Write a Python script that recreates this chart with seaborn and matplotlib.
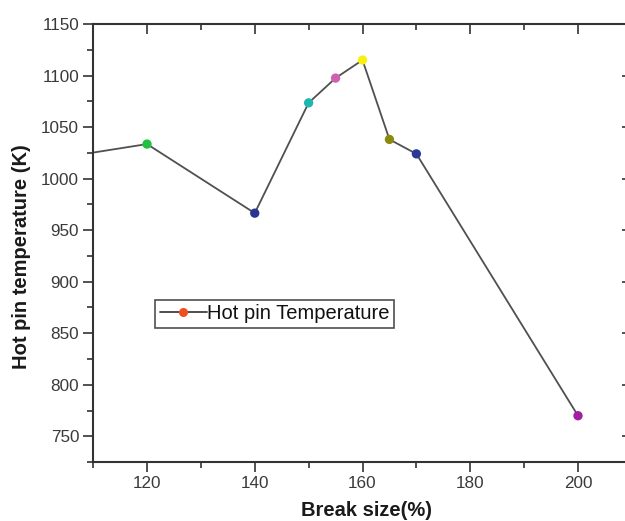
import pandas as pd
import matplotlib
matplotlib.use("Agg")
import matplotlib.pyplot as plt
import seaborn as sns
from matplotlib.lines import Line2D
from matplotlib.ticker import MultipleLocator

# data
break_size = [100, 120, 140, 150, 155, 160, 165, 170, 200]
hot_pin_temp = [1017, 1033.5, 966.5, 1073.5, 1097.5, 1115, 1038, 1024, 770]
point_colors = ["#e04020", "#22c040", "#2a3590", "#1fb5b0", "#d060b0",
                "#f8f010", "#8a8a10", "#2a3a9a", "#a020a0"]

df = pd.DataFrame({"x": break_size, "y": hot_pin_temp, "c": [str(i) for i in range(len(break_size))]})

sns.set_theme(style="white")
plt.rcParams["font.family"] = ["Liberation Sans", "DejaVu Sans"]

fig = plt.figure(figsize=(6.25, 5.21), dpi=100)
ax = fig.add_axes([0.149, 0.113, 0.862, 0.841])

sns.lineplot(data=df, x="x", y="y", color="#505050", linewidth=1.3, ax=ax, sort=False)
sns.scatterplot(data=df, x="x", y="y", hue="c", palette=point_colors, s=45,
                edgecolor="none", legend=False, ax=ax, zorder=3)

ax.set_xlim(110, 210)
ax.set_ylim(725, 1150)
ax.xaxis.set_major_locator(MultipleLocator(20))
ax.xaxis.set_minor_locator(MultipleLocator(10))
ax.yaxis.set_major_locator(MultipleLocator(50))
ax.yaxis.set_minor_locator(MultipleLocator(25))

ax.tick_params(which="both", bottom=True, left=True, top=False, right=False,
               direction="out", color="#333333", width=1.2, labelsize=12.3,
               labelcolor="#3a3a3a", pad=3)
ax.tick_params(which="major", length=7)
ax.tick_params(which="minor", length=4)

# mirrored ticks on top and right, pointing inward
sx = ax.secondary_xaxis("top")
sy = ax.secondary_yaxis("right")
sx.xaxis.set_major_locator(MultipleLocator(20))
sx.xaxis.set_minor_locator(MultipleLocator(10))
sy.yaxis.set_major_locator(MultipleLocator(50))
sy.yaxis.set_minor_locator(MultipleLocator(25))
for s in (sx, sy):
    s.tick_params(which="both", direction="in", color="#333333", width=1.2,
                  labeltop=False, labelright=False)
    s.tick_params(which="major", length=7)
    s.tick_params(which="minor", length=4)
    for sp in s.spines.values():
        sp.set_visible(False)

for sp in ax.spines.values():
    sp.set_color("#333333")
    sp.set_linewidth(1.5)

ax.set_xlabel("Break size(%)", fontsize=14.5, fontweight="bold", color="#1a1a1a")
ax.set_ylabel("Hot pin temperature (K)", fontsize=14.5, fontweight="bold", color="#1a1a1a")
ax.xaxis.set_label_coords(0.508, -0.088)
ax.yaxis.set_label_coords(-0.115, 0.47)

handle = Line2D([], [], color="#404040", linewidth=1.3, marker="o", markersize=6.5,
                markerfacecolor="#f05020", markeredgecolor="none")
leg = ax.legend(handles=[handle], labels=["Hot pin Temperature"], loc="upper left",
                bbox_to_anchor=(0.115, 0.37), fontsize=14.5, frameon=True, fancybox=False,
                handlelength=2.35, handletextpad=0.0, borderpad=0.22, borderaxespad=0)
leg.get_frame().set_edgecolor("#222222")
leg.get_frame().set_linewidth(1.2)
for txt in leg.get_texts():
    txt.set_color("#111111")

fig.savefig("out.png", dpi=100)
